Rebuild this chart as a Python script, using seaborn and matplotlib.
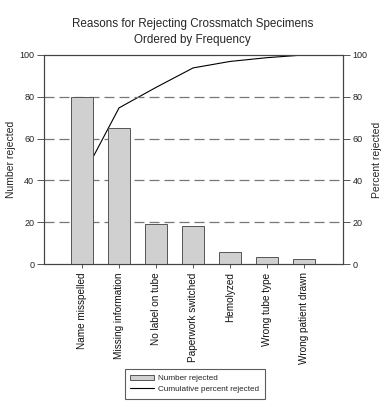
import numpy as np
import pandas as pd
import seaborn as sns
import matplotlib.pyplot as plt
from matplotlib.patches import Patch
from matplotlib.lines import Line2D

REASONS = ["Name misspelled", "Missing information", "No label on tube",
           "Paperwork switched", "Hemolyzed", "Wrong tube type",
           "Wrong patient drawn"]
NUM_REJECTED = [80, 65, 19, 18, 6, 3.5, 2.5]
CUM_PERCENT = [41.2, 74.7, 84.5, 93.8, 96.9, 98.7, 100]

sns.set_style("white")
plt.rcParams["font.family"] = ["Liberation Sans", "DejaVu Sans"]

df = pd.DataFrame({"reason": REASONS, "count": NUM_REJECTED, "cum": CUM_PERCENT})

fig = plt.figure(figsize=(3.85, 4.07), dpi=100)
ax = fig.add_axes([0.114, 0.351, 0.777, 0.514])
ax2 = ax.twinx()

# line behind bars
ax.set_zorder(ax2.get_zorder() + 1)
ax.patch.set_visible(False)

sns.lineplot(x=np.arange(len(REASONS)), y=df["cum"], ax=ax2, color="black",
             linewidth=0.8)
sns.barplot(data=df, x="reason", y="count", ax=ax, color="#d0d0d0",
            edgecolor="#555555", linewidth=0.7, width=0.6, saturation=1)

for y in [20, 40, 60, 80]:
    ax.axhline(y, color="#777777", linewidth=0.9, dashes=(8, 4), zorder=0)

for a in (ax, ax2):
    a.set_ylim(0, 100)
    a.set_yticks([0, 20, 40, 60, 80, 100])
    a.set_xlim(-1.03, 7.05)
    for s in a.spines.values():
        s.set_color("#444444")
        s.set_linewidth(0.8)
    a.tick_params(axis="y", direction="out", length=5, width=0.7,
                  labelsize=6.5, colors="#555555", labelcolor="#222222", pad=2)
ax.tick_params(axis="y", left=True)
ax2.tick_params(axis="y", right=True)
ax.tick_params(axis="x", bottom=True, direction="out", length=3, width=0.7,
               colors="#555555", labelcolor="#111111", labelsize=7.2, pad=3)
ax.set_xticks(range(len(REASONS)))
ax.set_xticklabels(REASONS, rotation=90)

ax.set_xlabel("")
ax.set_ylabel("Number rejected", fontsize=7.5)
ax2.set_ylabel("Percent rejected", fontsize=7.5)
ax.yaxis.set_label_coords(-0.094, 0.5)
ax2.yaxis.set_label_coords(1.097, 0.5)

fig.suptitle("Reasons for Rejecting Crossmatch Specimens\nOrdered by Frequency",
             fontsize=8.4, y=0.955, linespacing=1.4)

handles = [Patch(facecolor="#d0d0d0", edgecolor="#555555", linewidth=0.7),
           Line2D([], [], color="black", linewidth=0.8)]
leg = fig.legend(handles, ["Number rejected", "Cumulative percent rejected"],
                 loc="center", bbox_to_anchor=(0.506, 0.057), fontsize=5.9,
                 frameon=True, fancybox=False, handlelength=2.9,
                 handleheight=0.7, handletextpad=0.5, borderpad=0.7,
                 labelspacing=0.35)
leg.get_frame().set_edgecolor("#333333")
leg.get_frame().set_linewidth(0.8)

fig.savefig("out.png", dpi=100)
